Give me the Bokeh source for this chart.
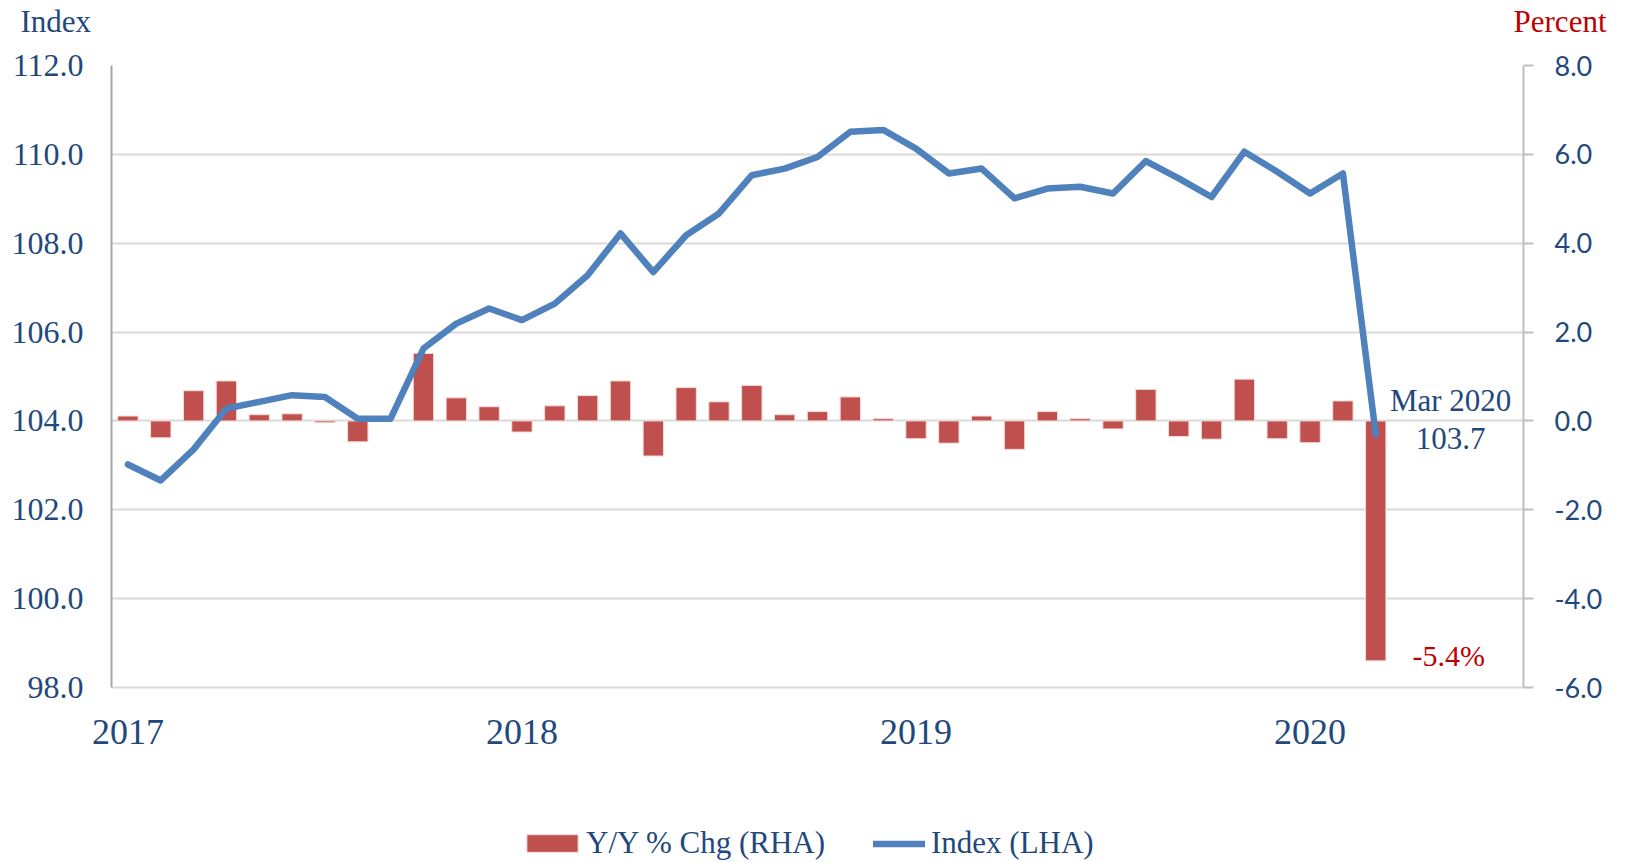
from bokeh.plotting import figure
from bokeh.layouts import column
from bokeh.models import (Range1d, LinearAxis, FixedTicker, NumeralTickFormatter,
                          Label, Legend, LegendItem, ColumnDataSource)
from bokeh.embed import file_html
from bokeh.resources import INLINE

months = ["Jan 2017", "Feb 2017", "Mar 2017", "Apr 2017", "May 2017", "Jun 2017",
          "Jul 2017", "Aug 2017", "Sep 2017", "Oct 2017", "Nov 2017", "Dec 2017",
          "Jan 2018", "Feb 2018", "Mar 2018", "Apr 2018", "May 2018", "Jun 2018",
          "Jul 2018", "Aug 2018", "Sep 2018", "Oct 2018", "Nov 2018", "Dec 2018",
          "Jan 2019", "Feb 2019", "Mar 2019", "Apr 2019", "May 2019", "Jun 2019",
          "Jul 2019", "Aug 2019", "Sep 2019", "Oct 2019", "Nov 2019", "Dec 2019",
          "Jan 2020", "Feb 2020", "Mar 2020"]

index_lha = [103.02, 102.66, 103.36, 104.28, 104.43, 104.58, 104.54, 104.05, 104.05, 105.63, 106.19, 106.53,
             106.27, 106.64, 107.28, 108.22, 107.35, 108.18, 108.67, 109.53, 109.68, 109.94, 110.51, 110.55,
             110.13, 109.57, 109.68, 109.01, 109.23, 109.27, 109.12, 109.85, 109.46, 109.04, 110.06, 109.61,
             109.12, 109.57, 103.7]

yoy_rha = [0.11, -0.38, 0.68, 0.90, 0.14, 0.16, -0.04, -0.47, 0.0, 1.52, 0.52, 0.32,
           -0.25, 0.34, 0.57, 0.90, -0.79, 0.75, 0.43, 0.80, 0.14, 0.21, 0.54, 0.05,
           -0.40, -0.50, 0.11, -0.64, 0.21, 0.05, -0.18, 0.71, -0.35, -0.41, 0.94, -0.40,
           -0.49, 0.45, -5.4]

year_labels = ["2017", "2018", "2019", "2020"]
left_ticks = [98, 100, 102, 104, 106, 108, 110, 112]
right_ticks = [-6, -4, -2, 0, 2, 4, 6, 8]
series_names = ["Y/Y % Chg (RHA)", "Index (LHA)"]
axis_titles = ["Index", "Percent"]

SERIF = "Liberation Serif"
SANS = "Lato"
NAVY = "#1F497D"
RED_TXT = "#C00000"
BAR = "#C0504D"
LINE = "#4F81BD"
W = 1625
H_HEAD, H_MAIN, H_LEG = 43, 747, 72


def bare(height):
    f = figure(width=W, height=height, output_backend="svg", toolbar_location=None,
               x_range=Range1d(0, W), y_range=Range1d(0, height),
               min_border_left=0, min_border_right=0, min_border_top=0, min_border_bottom=0)
    f.axis.visible = False
    f.grid.visible = False
    f.outline_line_color = None
    f.frame_align = False
    return f


# ---- header with the two axis titles ----
head = bare(H_HEAD)
head.add_layout(Label(x=20, y=22.5, text=axis_titles[0], text_font=SERIF,
                      text_font_size="31px", text_color=NAVY,
                      text_align="left", text_baseline="alphabetic"))
head.add_layout(Label(x=1606, y=22, text=axis_titles[1], text_font=SERIF,
                      text_font_size="31px", text_color=RED_TXT,
                      text_align="right", text_baseline="alphabetic"))

# ---- main chart ----
x = list(range(len(months)))
src = ColumnDataSource(dict(x=x, month=months, idx=index_lha, yoy=yoy_rha))

p = figure(width=W, height=H_MAIN, output_backend="svg", toolbar_location=None,
           x_range=Range1d(-0.5, 42.5), y_range=Range1d(98, 112),
           min_border_left=111, min_border_right=102, min_border_top=22, min_border_bottom=103)
p.frame_align = False
p.outline_line_color = None
p.background_fill_color = "white"
p.extra_y_ranges = {"rha": Range1d(-6, 8)}

p.xgrid.visible = False
p.ygrid.ticker = FixedTicker(ticks=left_ticks)
p.ygrid.grid_line_color = "#D9D9D9"
p.ygrid.grid_line_width = 2

xa = p.xaxis[0]
year_pos = [months.index("Jan " + y) for y in year_labels]
xa.ticker = FixedTicker(ticks=year_pos)
xa.major_label_overrides = {pos: lab for pos, lab in zip(year_pos, year_labels)}
xa.major_tick_line_color = None
xa.minor_tick_line_color = None
xa.axis_line_color = "#D9D9D9"
xa.axis_line_width = 2
xa.major_label_text_font = SERIF
xa.major_label_text_font_size = "36px"
xa.major_label_text_color = NAVY
xa.major_label_standoff = 26

ya = p.yaxis[0]
ya.ticker = FixedTicker(ticks=left_ticks)
ya.formatter = NumeralTickFormatter(format="0.0")
ya.major_tick_line_color = None
ya.minor_tick_line_color = None
ya.axis_line_color = "#A6A6A6"
ya.axis_line_width = 2
ya.major_label_text_font = SERIF
ya.major_label_text_font_size = "32px"
ya.major_label_text_color = NAVY
ya.major_label_standoff = 22

ra = LinearAxis(y_range_name="rha")
ra.ticker = FixedTicker(ticks=right_ticks)
ra.formatter = NumeralTickFormatter(format="0.0")
ra.major_tick_out = 10
ra.major_tick_in = 0
ra.major_tick_line_color = "#BFBFBF"
ra.major_tick_line_width = 2
ra.minor_tick_line_color = None
ra.axis_line_color = "#BFBFBF"
ra.axis_line_width = 2
ra.major_label_text_font = SANS
ra.major_label_text_font_size = "27px"
ra.major_label_text_color = NAVY
ra.major_label_standoff = 21
p.add_layout(ra, "right")

bar_style = dict(fill_color=BAR, line_color="#F2DCDB", line_width=1)
line_style = dict(line_color=LINE, line_width=6.5, line_join="round", line_cap="round")

p.vbar(x="x", top="yoy", bottom=0, width=0.62, source=src, y_range_name="rha", **bar_style)
p.line(x="x", y="idx", source=src, **line_style)

last = x[-1]
p.add_layout(Label(x=last + 2.28, y=104.47, text=months[-1], text_font=SERIF,
                   text_font_size="31px", text_color=NAVY, text_align="center",
                   text_baseline="middle"))
p.add_layout(Label(x=last + 2.28, y=103.61, text=f"{index_lha[-1]:.1f}", text_font=SERIF,
                   text_font_size="31px", text_color=NAVY, text_align="center",
                   text_baseline="middle"))
p.add_layout(Label(x=last + 2.22, y=yoy_rha[-1] + 0.12, y_range_name="rha",
                   text=f"{yoy_rha[-1]:.1f}%", text_font=SERIF,
                   text_font_size="30px", text_color=RED_TXT, text_align="center",
                   text_baseline="middle"))

# ---- legend strip: swatch renderers hold one off-screen point so the key is drawn ----
leg = bare(H_LEG)
swatch_src = ColumnDataSource(dict(x=[-1000], y=[-1000]))
r_bar = leg.vbar(x="x", top="y", bottom="y", width=1, source=swatch_src, **bar_style)
r_line = leg.line(x="x", y="y", source=swatch_src, **line_style)


def make_legend(item, xloc, gw, gh, standoff):
    return Legend(items=[item], location=(xloc, 1), orientation="horizontal",
                  label_text_font=SERIF, label_text_font_size="31px", label_text_color=NAVY,
                  glyph_width=gw, glyph_height=gh, label_height=34, label_standoff=standoff,
                  padding=0, margin=0, spacing=0, border_line_color=None,
                  background_fill_alpha=0)


leg.add_layout(make_legend(LegendItem(label=series_names[0], renderers=[r_bar]), 520, 64, 22, 2))
leg.add_layout(make_legend(LegendItem(label=series_names[1], renderers=[r_line]), 873, 52, 17, 6))

layout = column(head, p, leg, spacing=0)
open("out.html", "w").write(file_html(layout, INLINE))
